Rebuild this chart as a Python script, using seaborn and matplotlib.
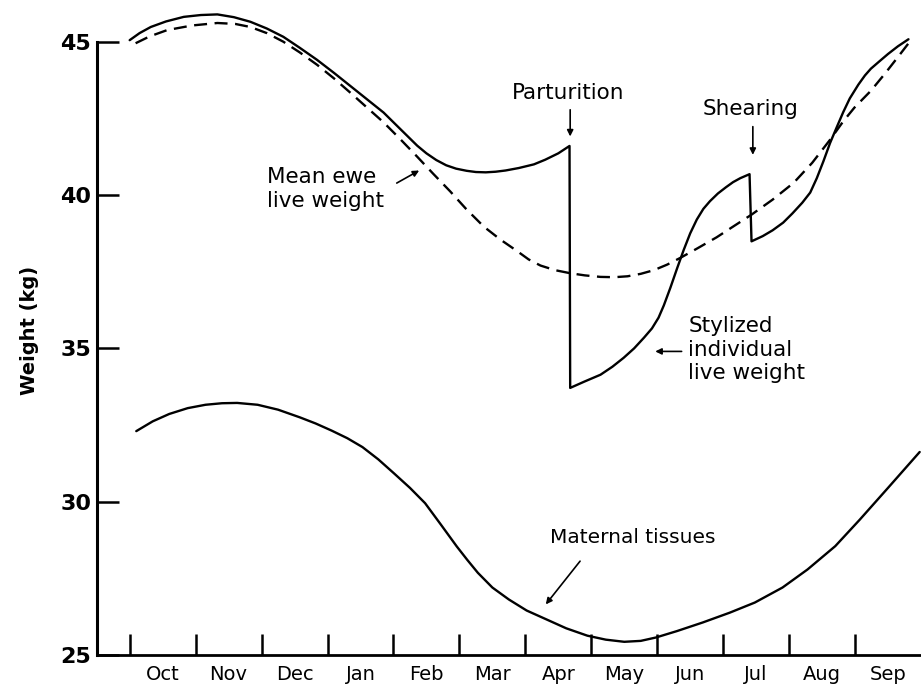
import numpy as np
import pandas as pd
import matplotlib
matplotlib.use("Agg")
import matplotlib.pyplot as plt
import seaborn as sns

# month 0 = start of October, values in kg
months = ['Oct', 'Nov', 'Dec', 'Jan', 'Feb', 'Mar', 'Apr', 'May', 'Jun', 'Jul', 'Aug', 'Sep']
yticks = [25, 30, 35, 40, 45]

# stylized individual live weight (solid, with drops at parturition and shearing)
indiv_t = [0.0, 0.15, 0.32, 0.55, 0.82, 1.08, 1.33, 1.58, 1.83, 2.08, 2.33, 2.58, 2.84,
           3.1, 3.35, 3.6, 3.85, 4.1, 4.36, 4.5, 4.65, 4.8, 4.95, 5.11, 5.25, 5.4, 5.55,
           5.7, 5.9, 6.13, 6.3, 6.5, 6.67,
           6.68, 6.9, 7.14, 7.32, 7.49, 7.65, 7.8, 7.92, 8.02, 8.1, 8.2, 8.3, 8.4, 8.5,
           8.6, 8.7, 8.8, 8.92, 9.04, 9.15, 9.26, 9.40,
           9.43, 9.6, 9.75, 9.91, 10.05, 10.2, 10.32, 10.42, 10.52, 10.62, 10.72, 10.82,
           10.92, 11.05, 11.15, 11.24, 11.38, 11.5, 11.65, 11.81]
indiv_w = [45.05, 45.28, 45.48, 45.66, 45.81, 45.87, 45.89, 45.8, 45.65, 45.43, 45.16,
           44.8, 44.41, 43.98, 43.55, 43.12, 42.69, 42.16, 41.61, 41.36, 41.14, 40.97,
           40.86, 40.79, 40.75, 40.74, 40.76, 40.8, 40.88, 41.0, 41.15, 41.36, 41.6,
           33.71, 33.92, 34.14, 34.4, 34.69, 35.0, 35.35, 35.65, 36.0, 36.4, 36.98, 37.6,
           38.2, 38.75, 39.2, 39.55, 39.8, 40.05, 40.25, 40.42, 40.55, 40.68,
           38.49, 38.66, 38.85, 39.1, 39.4, 39.75, 40.08, 40.55, 41.1, 41.69, 42.2, 42.7,
           43.15, 43.6, 43.9, 44.12, 44.38, 44.6, 44.85, 45.08]

# mean ewe live weight (dashed)
mean_t = [0.09, 0.3, 0.57, 0.95, 1.33, 1.6, 1.83, 2.08, 2.33, 2.58, 2.84, 3.1, 3.35, 3.6,
          3.85, 4.1, 4.36, 4.6, 4.86, 5.1, 5.37, 5.62, 5.87, 6.05, 6.23, 6.45, 6.68, 6.9,
          7.14, 7.35, 7.55, 7.75, 7.95, 8.15, 8.35, 8.6, 8.9, 9.15, 9.43, 9.75, 10.07,
          10.35, 10.62, 10.82, 10.99, 11.24, 11.45, 11.65, 11.84]
mean_w = [44.95, 45.17, 45.38, 45.53, 45.61, 45.58, 45.48, 45.28, 45.0, 44.65, 44.25,
          43.8, 43.33, 42.85, 42.37, 41.83, 41.25, 40.7, 40.12, 39.55, 38.97, 38.55,
          38.18, 37.9, 37.7, 37.55, 37.45, 37.38, 37.33, 37.32, 37.35, 37.43, 37.55,
          37.73, 37.95, 38.25, 38.62, 38.97, 39.36, 39.85, 40.4, 41.05, 41.8, 42.4,
          42.85, 43.4, 43.95, 44.5, 45.03]

# maternal tissues (solid, lower)
mat_t = [0.10, 0.35, 0.60, 0.88, 1.15, 1.4, 1.63, 1.94, 2.25, 2.58, 2.82, 3.06, 3.3, 3.53,
         3.77, 4.01, 4.25, 4.48, 4.72, 4.96, 5.12, 5.28, 5.5, 5.75, 6.02, 6.31, 6.62,
         6.94, 7.22, 7.5, 7.75, 7.98, 8.3, 8.69, 9.1, 9.48, 9.9, 10.28, 10.7, 11.07,
         11.5, 11.98]
mat_w = [32.30, 32.62, 32.86, 33.05, 33.16, 33.21, 33.22, 33.16, 33.0, 32.75, 32.55,
         32.32, 32.07, 31.78, 31.38, 30.92, 30.45, 29.95, 29.25, 28.54, 28.1, 27.68,
         27.2, 26.81, 26.45, 26.17, 25.87, 25.63, 25.5, 25.43, 25.46, 25.57, 25.78,
         26.06, 26.38, 26.71, 27.2, 27.79, 28.55, 29.41, 30.45, 31.62]

df_indiv = pd.DataFrame({'month': indiv_t, 'weight': indiv_w})
df_mean = pd.DataFrame({'month': mean_t, 'weight': mean_w})
df_mat = pd.DataFrame({'month': mat_t, 'weight': mat_w})

sns.set_style('ticks')
plt.rcParams['font.family'] = ['DejaVu Sans']
plt.rcParams['axes.edgecolor'] = 'black'
plt.rcParams['xtick.color'] = 'black'
plt.rcParams['ytick.color'] = 'black'
plt.rcParams['text.color'] = 'black'
plt.rcParams['axes.labelcolor'] = 'black'

fig = plt.figure(figsize=(9.21, 6.87), dpi=100)
ax = fig.add_axes([0.105, 0.0466, 0.895, 0.9534])

sns.lineplot(data=df_indiv, x='month', y='weight', ax=ax, color='black', lw=1.7,
             estimator=None, sort=False)
sns.lineplot(data=df_mean, x='month', y='weight', ax=ax, color='black', lw=1.7,
             estimator=None, sort=False, linestyle=(0, (5.5, 3.2)))
sns.lineplot(data=df_mat, x='month', y='weight', ax=ax, color='black', lw=1.7,
             estimator=None, sort=False)

ax.set_xlim(-0.5, 12.0)
ax.set_ylim(25, 46.36)

for s in ['top', 'right']:
    ax.spines[s].set_visible(False)
ax.spines['left'].set_bounds(25, 45)
ax.spines['left'].set_linewidth(2.2)
ax.spines['bottom'].set_linewidth(2.0)

ax.set_yticks(yticks)
ax.set_yticklabels([str(v) for v in yticks], fontsize=16, fontweight='bold')
ax.tick_params(axis='y', direction='in', length=16, width=1.8, pad=4)

ax.set_xticks(range(12))
ax.set_xticklabels([])
ax.tick_params(axis='x', which='major', direction='in', length=15, width=1.8)
ax.set_xticks(np.arange(12) + 0.5, minor=True)
ax.set_xticklabels(months, minor=True, fontsize=14)
ax.tick_params(axis='x', which='minor', length=0, pad=7)

ax.set_xlabel('')
ax.set_ylabel('Weight (kg)', fontsize=14, fontweight='bold')
ax.yaxis.set_label_coords(-0.07, 0.495)

arrow = dict(arrowstyle='-|>', color='black', lw=1.2, mutation_scale=9, shrinkA=0, shrinkB=0)
txt = dict(fontsize=15.5, color='black')

ax.text(6.65, 43.32, 'Parturition', ha='center', va='center', **txt)
ax.annotate('', xy=(6.68, 41.91), xytext=(6.68, 42.78), arrowprops=arrow)

ax.text(9.42, 42.80, 'Shearing', ha='center', va='center', **txt)
ax.annotate('', xy=(9.45, 41.31), xytext=(9.45, 42.23), arrowprops=arrow)

ax.text(2.09, 40.2, 'Mean ewe\nlive weight', ha='left', va='center', linespacing=1.25, **txt)
ax.annotate('', xy=(4.39, 40.80), xytext=(4.05, 40.39), arrowprops=arrow)

ax.text(8.47, 34.96, 'Stylized\nindividual\nlive weight', ha='left', va='center',
        linespacing=1.2, **txt)
ax.annotate('', xy=(7.97, 34.90), xytext=(8.37, 34.90), arrowprops=arrow)

ax.text(7.63, 28.84, 'Maternal tissues', ha='center', va='center', fontsize=14.5,
        color='black')
ax.annotate('', xy=(6.31, 26.65), xytext=(6.83, 28.06), arrowprops=arrow)

fig.savefig('out.png', dpi=100)
